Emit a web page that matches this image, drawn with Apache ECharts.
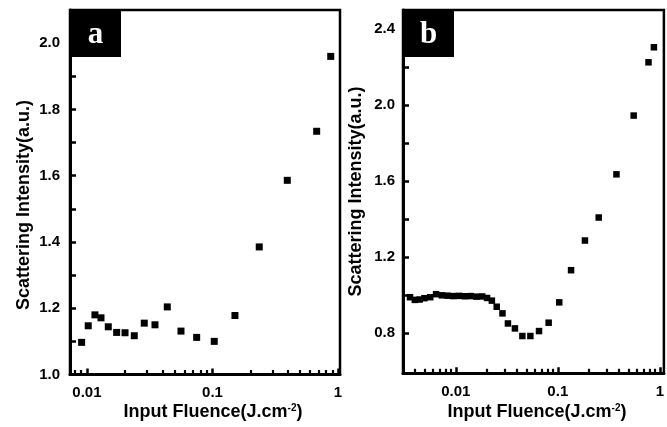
<!DOCTYPE html>
<html>
<head>
<meta charset="utf-8">
<script src="https://cdn.jsdelivr.net/npm/echarts@6/dist/echarts.min.js"></script>
<style>
  html, body { margin: 0; padding: 0; background: #fff; }
  #chart { width: 667px; height: 427px; }
</style>
</head>
<body>
<div id="chart"></div>
<script>
// panel a
const fluenceA = [0.00907, 0.01024, 0.01158, 0.01294, 0.01479, 0.01725, 0.02011, 0.02383, 0.02862, 0.03483,
  0.04365, 0.05612, 0.07482, 0.1033, 0.151, 0.2358, 0.3943, 0.6761, 0.875]
const intensityA = [1.097, 1.147, 1.180, 1.171, 1.144, 1.127, 1.126, 1.117, 1.155, 1.150,
  1.204, 1.131, 1.112, 1.100, 1.178, 1.385, 1.586, 1.734, 1.960]

// panel b
const fluenceB = [0.00356, 0.00397, 0.00443, 0.00493, 0.00562, 0.00641, 0.0073, 0.00831, 0.00947, 0.01079,
  0.0123, 0.014, 0.01595, 0.01816, 0.02026, 0.02259, 0.02519, 0.02869, 0.03246, 0.03801,
  0.04497, 0.05386, 0.06546, 0.08134, 0.1033, 0.1349, 0.1845, 0.2517, 0.3758, 0.554,
  0.7745, 0.875]
const intensityB = [0.990, 0.976, 0.978, 0.985, 0.990, 1.006, 1.000, 0.998, 0.996, 0.997,
  0.995, 0.996, 0.993, 0.994, 0.986, 0.972, 0.940, 0.905, 0.852, 0.826,
  0.786, 0.786, 0.812, 0.856, 0.963, 1.132, 1.288, 1.409, 1.636, 1.945,
  2.225, 2.304]

// ticks
const xLabels = [0.01, 0.1, 1]
const xMinor = [0.004, 0.005, 0.006, 0.007, 0.008, 0.009, 0.02, 0.03, 0.04, 0.05, 0.06, 0.07, 0.08, 0.09,
  0.2, 0.3, 0.4, 0.5, 0.6, 0.7, 0.8, 0.9]
const yLabelsA = [1.0, 1.2, 1.4, 1.6, 1.8, 2.0]
const yTicksA = [1.1, 1.2, 1.3, 1.4, 1.5, 1.6, 1.7, 1.8, 1.9, 2.0]
const yLabelsB = [0.8, 1.2, 1.6, 2.0, 2.4]
const yTicksB = [0.8, 1.0, 1.2, 1.4, 1.6, 1.8, 2.0, 2.2, 2.4]

const FONT = '"Liberation Sans", Arial, sans-serif'
const tickLabel = { fontFamily: FONT, fontWeight: 'bold', fontSize: 15, color: '#000' }
const blackLine = { color: '#000', width: 3 }

function majorX(gridIndex, min, max) {
  return {
    type: 'log', logBase: 10, gridIndex, min, max,
    axisLine: { lineStyle: blackLine },
    axisTick: { inside: true, length: 6, lineStyle: { color: '#000', width: 2.5 }, customValues: xLabels },
    axisLabel: { ...tickLabel, margin: 11, customValues: xLabels, formatter: v => String(v) },
    splitLine: { show: false }
  }
}
function minorX(gridIndex, min, max) {
  return {
    type: 'log', logBase: 10, gridIndex, min, max, position: 'bottom',
    axisLine: { show: false },
    axisTick: { inside: true, length: 4.5, lineStyle: { color: '#000', width: 2.2 }, customValues: xMinor },
    axisLabel: { show: false },
    splitLine: { show: false }
  }
}
function yAx(gridIndex, min, max, labels, ticks, margin) {
  return {
    type: 'value', gridIndex, min, max,
    axisLine: { lineStyle: blackLine },
    axisTick: { inside: true, length: 6, lineStyle: { color: '#000', width: 2.5 }, customValues: ticks },
    axisLabel: { ...tickLabel, margin, customValues: labels, formatter: v => v.toFixed(1) },
    splitLine: { show: false }
  }
}

function panelTag(x, letter) {
  return {
    type: 'group', left: x, top: 10,
    children: [
      { type: 'rect', shape: { x: 0, y: 0, width: 51, height: 47 }, style: { fill: '#000' } },
      { type: 'text', x: 25.5, y: 25, style: { text: letter, fill: '#fff', font: 'bold 31px "Liberation Serif", "Times New Roman", serif', textAlign: 'center', textVerticalAlign: 'middle' } }
    ]
  }
}
function nameText(x, y, text, rotate) {
  return {
    type: 'text', x, y, rotation: rotate ? Math.PI / 2 : 0,
    style: {
      text, fill: '#000', font: 'bold 18px ' + FONT, textAlign: 'center', textVerticalAlign: 'middle',
      rich: { sup: { fontSize: 10, fontWeight: 'bold', fontFamily: FONT, verticalAlign: 'top' } }
    }
  }
}

const chart = echarts.init(document.getElementById('chart'))
chart.setOption({
  animation: false,
  backgroundColor: '#fff',
  grid: [
    { left: 70, top: 10, width: 270, height: 364.5, show: true, borderColor: '#000', borderWidth: 2.5 },
    { left: 403, top: 10, width: 271, height: 363.3, show: true, borderColor: '#000', borderWidth: 2.5 }
  ],
  xAxis: [
    majorX(0, 0.00733, 1.037),
    majorX(1, 0.00304, 1.096),
    minorX(0, 0.00733, 1.037),
    minorX(1, 0.00304, 1.096)
  ],
  yAxis: [
    yAx(0, 1.0, 2.1, yLabelsA, yTicksA, 10),
    yAx(1, 0.59, 2.5, yLabelsB, yTicksB, 8)
  ],
  series: [
    {
      type: 'scatter', xAxisIndex: 0, yAxisIndex: 0, symbol: 'rect', symbolSize: 7,
      itemStyle: { color: '#000', opacity: 1 },
      data: fluenceA.map((f, i) => [f, intensityA[i]])
    },
    {
      type: 'scatter', xAxisIndex: 1, yAxisIndex: 1, symbol: 'rect', symbolSize: 6.5,
      itemStyle: { color: '#000', opacity: 1 },
      data: fluenceB.map((f, i) => [f, intensityB[i]])
    }
  ],
  graphic: [
    panelTag(70, 'a'),
    panelTag(403, 'b'),
    nameText(24, 205, 'Scattering Intensity(a.u.)', true),
    nameText(356, 191.5, 'Scattering Intensity(a.u.)', true),
    nameText(213, 412, 'Input Fluence(J.cm{sup|-2})', false),
    nameText(537, 412, 'Input Fluence(J.cm{sup|-2})', false)
  ]
})
</script>
</body>
</html>
